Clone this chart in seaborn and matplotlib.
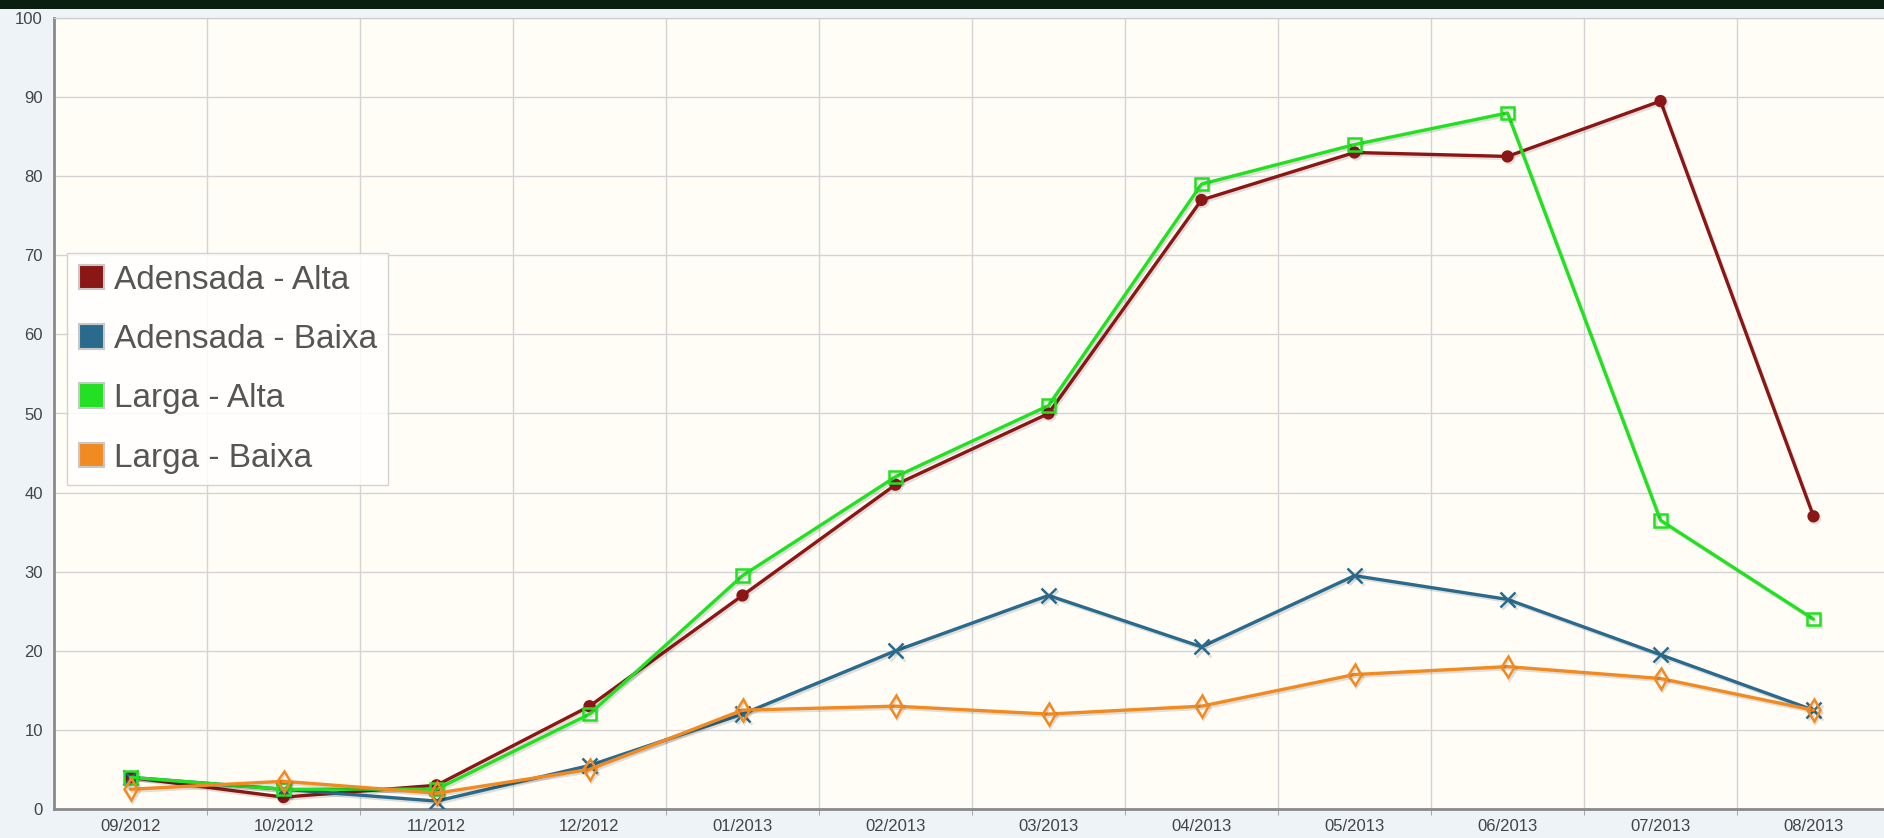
import pandas as pd
import matplotlib
matplotlib.use("Agg")
import matplotlib.pyplot as plt
import matplotlib.patheffects as pe
from matplotlib.patches import Rectangle
from matplotlib.ticker import FixedLocator
import seaborn as sns

# Data
months = ['09/2012', '10/2012', '11/2012', '12/2012', '01/2013', '02/2013',
          '03/2013', '04/2013', '05/2013', '06/2013', '07/2013', '08/2013']
adensada_alta = [4, 1.5, 3, 13, 27, 41, 50, 77, 83, 82.5, 89.5, 37]
adensada_baixa = [4, 2.5, 1, 5.5, 12, 20, 27, 20.5, 29.5, 26.5, 19.5, 12.5]
larga_alta = [4, 2.5, 2.5, 12, 29.5, 42, 51, 79, 84, 88, 36.5, 24]
larga_baixa = [2.5, 3.5, 2, 5, 12.5, 13, 12, 13, 17, 18, 16.5, 12.5]
series_names = ['Adensada - Alta', 'Adensada - Baixa', 'Larga - Alta', 'Larga - Baixa']
y_ticks = list(range(0, 101, 10))


def main():
    sns.set_style('white')
    plt.rcParams['font.family'] = ['Liberation Sans', 'DejaVu Sans']

    fig = plt.figure(figsize=(18.84, 8.38), dpi=100)
    fig.patch.set_facecolor('#eef3f8')
    # dark banner strip across the top
    fig.patches.append(Rectangle((0, 1 - 9 / 838), 1, 9 / 838, transform=fig.transFigure,
                                 facecolor='#0b1f10', edgecolor='none', zorder=0))

    ax = fig.add_axes([54 / 1884, 29 / 838, 1836 / 1884, 791 / 838])
    ax.set_facecolor('#fffdf6')

    # style per series: colour, marker, filled?, size
    styles = {
        'Adensada - Alta': ('#8b1616', 'o', True, 7),
        'Adensada - Baixa': ('#2a6a8c', 'x', False, 11),
        'Larga - Alta': ('#22e022', 's', False, 9),
        'Larga - Baixa': ('#f28a22', 'd', False, 11),
    }
    values = [adensada_alta, adensada_baixa, larga_alta, larga_baixa]
    shadow = [pe.SimpleLineShadow(offset=(1.2, -1.5), shadow_color='k', alpha=0.12),
              pe.Normal()]

    for name, vals in zip(series_names, values):
        color, marker, filled, ms = styles[name]
        df = pd.DataFrame({'month': months, 'value': vals})
        sns.lineplot(data=df, x='month', y='value', ax=ax, color=color, marker=marker,
                     markersize=ms, linewidth=2.4, sort=False,
                     markerfacecolor=color if filled else 'none',
                     markeredgecolor=color, markeredgewidth=1.8,
                     path_effects=shadow, zorder=3)

    ax.set_xlim(-0.5, len(months) - 0.5)
    ax.set_ylim(0, 100)
    ax.set_xlabel('')
    ax.set_ylabel('')

    # category boundaries as grid lines
    ax.xaxis.set_major_locator(FixedLocator(range(len(months))))
    ax.set_xticklabels(months)
    ax.xaxis.set_minor_locator(FixedLocator([i + 0.5 for i in range(len(months) - 1)]))
    ax.yaxis.set_major_locator(FixedLocator(y_ticks))
    ax.grid(which='minor', axis='x', color='#d4d4d4', linewidth=1)
    ax.grid(which='major', axis='y', color='#d4d4d4', linewidth=1)
    ax.set_axisbelow(True)

    ax.tick_params(axis='x', which='major', length=0, pad=7, labelsize=12, labelcolor='#444444')
    ax.tick_params(axis='x', which='minor', length=4, color='#999999', bottom=True)
    ax.tick_params(axis='y', length=4, color='#999999', pad=4, labelsize=12, labelcolor='#444444')

    for side in ['left', 'bottom']:
        ax.spines[side].set_color('#8a8a8a')
        ax.spines[side].set_linewidth(2)
    ax.spines['top'].set_color('#cccccc')
    ax.spines['right'].set_visible(False)

    # legend with square swatches
    handles = [Rectangle((0, 0), 1, 1, facecolor=styles[n][0], edgecolor='#c8c8c8', linewidth=1.5)
               for n in series_names]
    leg = ax.legend(handles, series_names, loc='upper left', bbox_to_anchor=(0.007, 0.703),
                    borderaxespad=0, fontsize=24, frameon=True, fancybox=False,
                    handlelength=0.75, handleheight=0.75, handletextpad=0.3,
                    labelspacing=0.85, borderpad=0.35)
    leg.get_frame().set_edgecolor('#cccccc')
    leg.get_frame().set_facecolor('white')
    leg.get_frame().set_alpha(0.85)
    for t in leg.get_texts():
        t.set_color('#555555')

    fig.savefig('out.png', dpi=100, facecolor=fig.get_facecolor())


if __name__ == "__main__":
    main()
